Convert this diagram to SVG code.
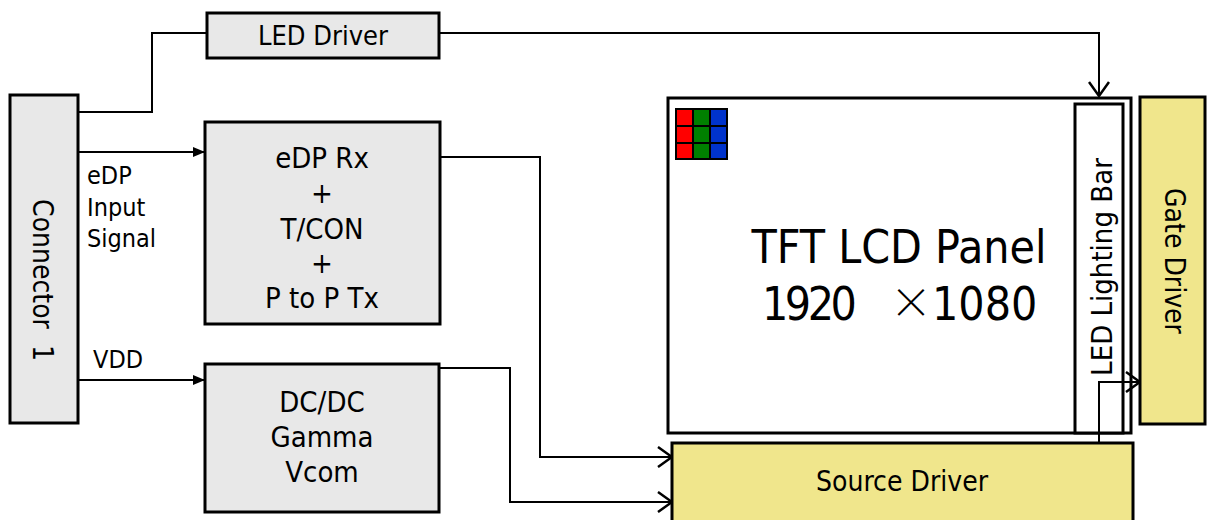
<svg xmlns="http://www.w3.org/2000/svg" width="1207" height="520" viewBox="0 0 1207 520">
<defs>
<style>
text{font-family:"DejaVu Sans Condensed","DejaVu Sans","Liberation Sans",sans-serif;fill:#000}
.box{fill:#e8e8e8;stroke:#000;stroke-width:3}
.yel{fill:#f0e68c;stroke:#000;stroke-width:3}
.wht{fill:#fff;stroke:#000;stroke-width:3}
.ln{fill:none;stroke:#000;stroke-width:2}
.t29{font-size:29px;text-anchor:middle}
.lab{font-size:25px}
</style>
<marker id="fa" viewBox="0 0 12 10" refX="12" refY="5" markerWidth="12" markerHeight="10" markerUnits="userSpaceOnUse" orient="auto">
<path d="M0,0 L12,5 L0,10 Z" fill="#000"/>
</marker>
<marker id="oa" viewBox="0 0 16 22" refX="15" refY="11" markerWidth="16" markerHeight="22" markerUnits="userSpaceOnUse" orient="auto">
<path d="M1,1 L15,11 L1,21" fill="none" stroke="#000" stroke-width="2.5"/>
</marker>
</defs>
<rect width="1207" height="520" fill="#fff"/>

<g id="connector1">
<rect class="box" x="10" y="95" width="68" height="328"/>
<text transform="translate(33,280) rotate(90)" font-size="28" text-anchor="middle" xml:space="preserve">Connector  1</text>
</g>

<g id="labels">
<text class="lab" x="87" y="184">eDP</text>
<text class="lab" x="87" y="216">Input</text>
<text class="lab" x="87" y="247">Signal</text>
<text class="lab" x="93" y="368">VDD</text>
</g>

<g id="led-driver">
<rect class="box" x="207" y="13" width="232" height="45"/>
<text x="323" y="45" font-size="27" text-anchor="middle">LED Driver</text>
</g>

<g id="edp-rx">
<rect class="box" x="205" y="122" width="235" height="202"/>
<text class="t29" x="322" y="168">eDP Rx</text>
<text class="t29" x="322" y="203">+</text>
<text class="t29" x="322" y="239">T/CON</text>
<text class="t29" x="322" y="273">+</text>
<text class="t29" x="322" y="308">P to P Tx</text>
</g>

<g id="dcdc">
<rect class="box" x="205" y="364" width="234" height="148"/>
<text class="t29" x="322" y="412">DC/DC</text>
<text class="t29" x="322" y="447">Gamma</text>
<text class="t29" x="322" y="482">Vcom</text>
</g>

<g id="panel">
<rect class="wht" x="668" y="98" width="463" height="335"/>
<rect x="675" y="108" width="53" height="52" fill="#000"/>
<rect x="677" y="110" width="15" height="15" fill="#ff0000"/>
<rect x="694" y="110" width="15" height="15" fill="#008000"/>
<rect x="711" y="110" width="15" height="15" fill="#0033cc"/>
<rect x="677" y="127" width="15" height="15" fill="#ff0000"/>
<rect x="694" y="127" width="15" height="15" fill="#008000"/>
<rect x="711" y="127" width="15" height="15" fill="#0033cc"/>
<rect x="677" y="144" width="15" height="14" fill="#ff0000"/>
<rect x="694" y="144" width="15" height="14" fill="#008000"/>
<rect x="711" y="144" width="15" height="14" fill="#0033cc"/>
<text x="899" y="263" font-size="46" text-anchor="middle">TFT LCD Panel</text>
<text x="762" y="320" font-size="46" letter-spacing="-3.5">1920</text>
<text x="911" y="318" text-anchor="middle" style="font-family:'Noto Sans CJK JP','Noto Sans CJK SC',sans-serif;font-size:42px;font-weight:300">×</text>
<text x="932" y="320" font-size="46">1080</text>
</g>

<g id="led-bar">
<rect class="wht" x="1075" y="104" width="48" height="329"/>
<text transform="translate(1112,267) rotate(-90)" font-size="29" text-anchor="middle">LED Lighting Bar</text>
</g>

<g id="gate-driver">
<rect class="yel" x="1140" y="97" width="65" height="327"/>
<text transform="translate(1165,261) rotate(90)" font-size="28" text-anchor="middle">Gate Driver</text>
</g>

<g id="source-driver">
<rect class="yel" x="672" y="443" width="461" height="82"/>
<text x="902" y="491" font-size="28" text-anchor="middle">Source Driver</text>
</g>

<g id="connectors">
<polyline class="ln" points="78,112 152,112 152,33 207,33"/>
<polyline class="ln" points="439,33 1099,33 1099,96" marker-end="url(#oa)"/>
<line class="ln" x1="78" y1="152" x2="205" y2="152" marker-end="url(#fa)"/>
<line class="ln" x1="78" y1="380" x2="205" y2="380" marker-end="url(#fa)"/>
<polyline class="ln" points="440,157 540,157 540,457 672,457" marker-end="url(#oa)"/>
<polyline class="ln" points="439,368 510,368 510,502 672,502" marker-end="url(#oa)"/>
<polyline class="ln" points="1099,443 1099,382 1140,382" marker-end="url(#oa)"/>
</g>
</svg>
